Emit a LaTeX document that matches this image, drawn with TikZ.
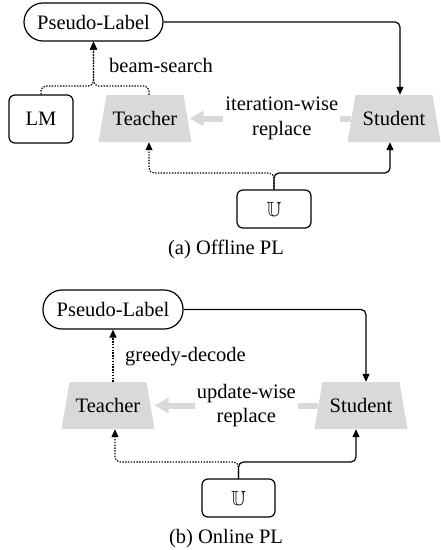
\documentclass[tikz,border=0pt]{standalone}
\usepackage{amssymb}
\usepackage{fontspec}
\setmainfont{Liberation Serif}
\usetikzlibrary{arrows.meta}

\definecolor{modelgray}{RGB}{217,217,217}

\tikzset{
  every node/.style={font=\fontsize{20.5}{24.5}\selectfont},
  pill/.style={draw, line width=1.2pt, rounded corners=19pt, minimum width=139pt, minimum height=38pt, inner sep=0pt},
  roundbox/.style={draw, line width=1.2pt, rounded corners=6pt, inner sep=0pt},
  % gray model block: a trapezoid, wider at the bottom, filled inside the node box
  model/.style={minimum width=93pt, minimum height=47pt, inner sep=0pt,
    path picture={
      \fill[modelgray] (path picture bounding box.south west)
        -- (path picture bounding box.south east)
        -- ([xshift=-8pt]path picture bounding box.north east)
        -- ([xshift=8pt]path picture bounding box.north west) -- cycle;
    }},
  solidarrow/.style={line width=1.2pt, rounded corners=5pt, -{Triangle[length=8pt,width=7pt]}},
  dotarrow/.style={line width=1.2pt, dash pattern=on 1.4pt off 1.4pt, rounded corners=5pt,
                   -{Triangle[length=8pt,width=7pt]}},
  grayarrow/.style={modelgray, line width=6pt, -{Triangle[length=14pt,width=15pt]}},
  replacelbl/.style={fill=white, align=center, inner sep=2pt, text=black},
}

\begin{document}
\begin{tikzpicture}[x=1pt,y=-1pt]
\useasboundingbox (0,0) rectangle (440,550);

% ---------- (a) Offline PL ----------
\node[pill] (pla) at (93.5,22) {Pseudo-Label};
\node[roundbox, minimum width=64pt, minimum height=48pt] (lm) at (41,119) {LM};
\node[model] (ta) at (145,118.5) {Teacher};
\node[model] (sa) at (394,118.5) {Student};
\node[roundbox, minimum width=74pt, minimum height=38pt] (ua) at (274,209) {$\mathbb{U}$};

\coordinate (jba) at (93.5,86);
\coordinate (jua) at (274,173);

\draw[solidarrow] (pla.east) -| ([xshift=6pt]sa.north);
\draw[dotarrow] (lm.north) |- (jba) -- (pla.south);
\draw[dotarrow] ([xshift=4pt]ta.north) |- (jba) -- (pla.south);
\node at (161,65) {beam-search};

\draw[grayarrow] ([xshift=4pt]sa.west) -- node[replacelbl, pos=0.43] {iteration-wise\\replace} ([xshift=-2pt]ta.east);

\draw[dotarrow] (ua.north) -- (jua) -| ([xshift=4pt]ta.south);
\draw[solidarrow] (ua.north) -- (jua) -| ([xshift=-4pt]sa.south);

\node (capa) at (226,249) {(a) Offline PL};

% ---------- (b) Online PL ----------
\node[pill, minimum width=140pt, minimum height=39pt] (plb) at (113,309.5) {Pseudo-Label};
\node[model] (tb) at (108,405.5) {Teacher};
\node[model] (sb) at (361,405.5) {Student};
\node[roundbox, minimum width=73pt, minimum height=38pt] (ub) at (238.5,498) {$\mathbb{U}$};

\coordinate (jub) at (238.5,462);

\draw[solidarrow] (plb.east) -| ([xshift=5pt]sb.north);
\draw[dotarrow] (plb.south |- tb.north) -- (plb.south);
\node at (185.5,357) {greedy-decode};

\draw[grayarrow] ([xshift=4pt]sb.west) -- node[replacelbl, pos=0.44] {update-wise\\replace} (tb.east);

\draw[dotarrow] (ub.north) -- (jub) -| ([xshift=7pt]tb.south);
\draw[solidarrow] (ub.north) -- (jub) -| ([xshift=-5pt]sb.south);

\node (capb) at (226,539) {(b) Online PL};
\end{tikzpicture}
\end{document}
